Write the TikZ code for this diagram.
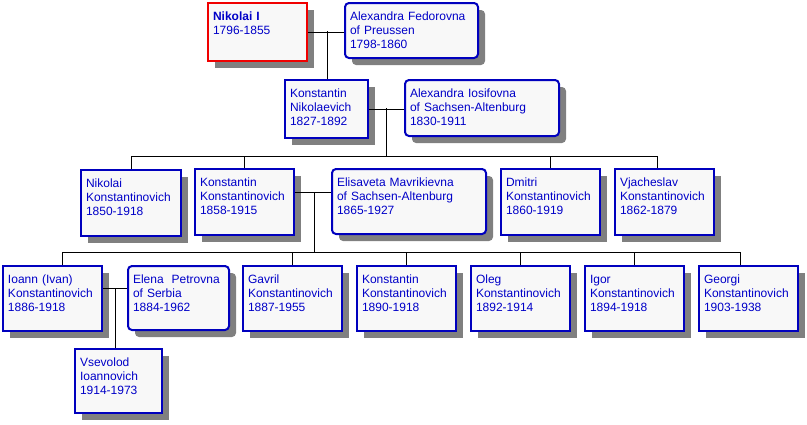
\documentclass[tikz,border=0pt]{standalone}
\usepackage{fontspec}
\setmainfont{Liberation Sans}
\usepackage{tikz}
\usetikzlibrary{
    shadows
}
\definecolor{LineBlue}{RGB}{0,0,190}
\definecolor{TextBlue}{RGB}{0,0,200}
\definecolor{BoxFill}{RGB}{248,248,248}
\definecolor{ShadowGray}{RGB}{128,128,128}
\definecolor{FounderRed}{RGB}{240,0,0}

\begin{document}
\begin{tikzpicture}[
    x=1pt, y=-1pt,
    person/.style={rectangle, draw=LineBlue, line width=2pt, fill=BoxFill, anchor=north west, align=left,
      font=\fontsize{12}{14}\selectfont, text=TextBlue, inner xsep=5pt, inner ysep=0pt, text height=17pt,
      drop shadow={shadow xshift=7pt, shadow yshift=-7pt, fill=ShadowGray, opacity=1}},
    spouse/.style={person, rounded corners=4pt},
    founder/.style={person, draw=FounderRed},
    rel/.style={line width=1pt, color=black},
]
\useasboundingbox (0,0) rectangle (807,424);

% generation 1
\node[founder, text width=89pt, text depth=41pt] (n1) at (207,2) {\textbf{Nikolai I}\\1796-1855};
\node[spouse, text width=123pt, text depth=38pt] (af) at (344,2) {Alexandra Fedorovna\\of Preussen\\1798-1860};

% generation 2
\node[person, text width=73pt, text depth=41pt] (kn) at (284,79) {Konstantin\\Nikolaevich\\1827-1892};
\node[spouse, text width=144pt, text depth=39pt] (ai) at (404,79) {Alexandra Iosifovna\\of Sachsen-Altenburg\\1830-1911};

% generation 3
\node[person, text width=90pt, text depth=49pt] (nk) at (80,169) {Nikolai\\Konstantinovich\\1850-1918};
\node[person, text width=89pt, text depth=49pt] (kk) at (194,168) {Konstantin\\Konstantinovich\\1858-1915};
\node[spouse, text width=144pt, text depth=48pt] (em) at (331,168) {Elisaveta Mavrikievna\\of Sachsen-Altenburg\\1865-1927};
\node[person, text width=89pt, text depth=49pt] (dm) at (500,168) {Dmitri\\Konstantinovich\\1860-1919};
\node[person, text width=89pt, text depth=49pt] (vj) at (614,168) {Vjacheslav\\Konstantinovich\\1862-1879};

% generation 4
\node[person, text width=89pt, text depth=48pt] (io) at (2,265) {Ioann (Ivan)\\Konstantinovich\\1886-1918};
\node[spouse, text width=91pt, text depth=47pt] (ep) at (127,265) {Elena~ Petrovna\\of Serbia\\1884-1962};
\node[person, text width=89pt, text depth=48pt] (ga) at (242,265) {Gavril\\Konstantinovich\\1887-1955};
\node[person, text width=89pt, text depth=48pt] (ko) at (356,265) {Konstantin\\Konstantinovich\\1890-1918};
\node[person, text width=89pt, text depth=48pt] (ol) at (470,265) {Oleg\\Konstantinovich\\1892-1914};
\node[person, text width=89pt, text depth=48pt] (ig) at (584,265) {Igor\\Konstantinovich\\1894-1918};
\node[person, text width=89pt, text depth=48pt] (ge) at (698,265) {Georgi\\Konstantinovich\\1903-1938};

% generation 5
\node[person, text width=77pt, text depth=47pt] (vs) at (74,348) {Vsevolod\\Ioannovich\\1914-1973};

% marriage points and busses
\coordinate (c1) at (327,31);
\coordinate (c2) at (386,108);
\coordinate (bus3) at (386,156);
\coordinate (c3) at (314,192);
\coordinate (bus4) at (314,252);
\coordinate (c4) at (115,288);
\coordinate (vjtop) at ([xshift=-7pt]vj.north);
\coordinate (iotop) at ([xshift=10pt]io.north);
\coordinate (getop) at ([xshift=-8pt]ge.north);

% relations
\draw[rel] (n1.east) -- (n1.east -| af.west);
\draw[rel] (c1) -- (c1 |- kn.north);
\draw[rel] (kn.east) -- (kn.east -| ai.west);
\draw[rel] (c2) -- (bus3);
\draw[rel] (bus3 -| nk.north) -- (bus3 -| vjtop);
\foreach \c in {nk.north, kk.north, dm.north, vjtop}
  \draw[rel] (bus3 -| \c) -- (\c);
\draw[rel] (kk.east |- c3) -- (em.west |- c3);
\draw[rel] (c3) -- (bus4);
\draw[rel] (bus4 -| iotop) -- (bus4 -| getop);
\foreach \c in {iotop, ga.north, ko.north, ol.north, ig.north, getop}
  \draw[rel] (bus4 -| \c) -- (\c);
\draw[rel] (io.east |- c4) -- (ep.west |- c4);
\draw[rel] (c4) -- (c4 |- vs.north);
\end{tikzpicture}
\end{document}
